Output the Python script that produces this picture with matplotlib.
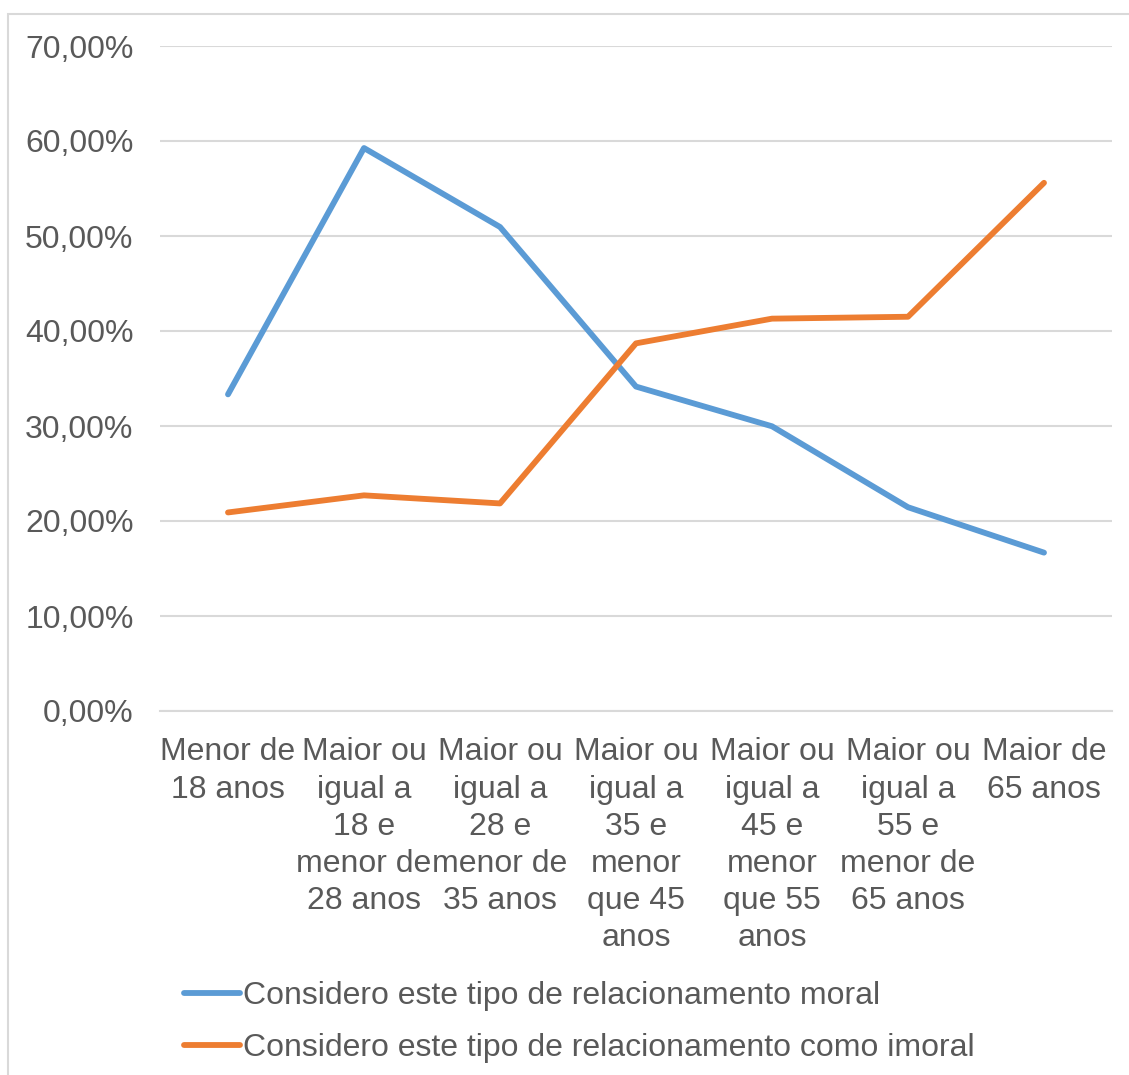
import matplotlib
matplotlib.use("Agg")
import matplotlib.pyplot as plt
from matplotlib.patches import Rectangle
from matplotlib.ticker import FuncFormatter

plt.rcParams['font.family'] = ['Liberation Sans', 'DejaVu Sans']

# Age groups (x categories)
categories = [
    "Menor de\n18 anos",
    "Maior ou\nigual a\n18 e\nmenor de\n28 anos",
    "Maior ou\nigual a\n28 e\nmenor de\n35 anos",
    "Maior ou\nigual a\n35 e\nmenor\nque 45\nanos",
    "Maior ou\nigual a\n45 e\nmenor\nque 55\nanos",
    "Maior ou\nigual a\n55 e\nmenor de\n65 anos",
    "Maior de\n65 anos",
]

# Share of respondents (%)
moral = [33.33, 59.26, 50.95, 34.15, 29.97, 21.45, 16.67]
imoral = [20.90, 22.70, 21.85, 38.70, 41.30, 41.50, 55.60]

series_labels = [
    "Considero este tipo de relacionamento moral",
    "Considero este tipo de relacionamento como imoral",
]
y_ticks = [0, 10, 20, 30, 40, 50, 60, 70]

W, H = 1129, 1075
FS = 23
fig = plt.figure(figsize=(W / 100, H / 100), dpi=100)
fig.patch.set_facecolor("white")

# Chart-area border
fig.add_artist(Rectangle((8 / W, -0.05), 1.2, 1 - 14 / H + 0.05,
                         transform=fig.transFigure, fill=False,
                         edgecolor="#D9D9D9", linewidth=1.5))

ax = fig.add_axes([160 / W, 1 - 711 / H, (1112 - 160) / W, (711 - 46) / H])

text_color = "#595959"
x = list(range(len(categories)))
ax.plot(x, moral, color="#5B9BD5", linewidth=4.2, solid_capstyle="round",
        solid_joinstyle="round", label=series_labels[0], zorder=3)
ax.plot(x, imoral, color="#ED7D31", linewidth=4.2, solid_capstyle="round",
        solid_joinstyle="round", label=series_labels[1], zorder=3)

ax.set_xlim(-0.5, len(categories) - 0.5)
ax.set_ylim(0, 70)
ax.set_yticks(y_ticks)
ax.yaxis.set_major_formatter(FuncFormatter(lambda v, p: f"{v:.2f}%".replace(".", ",")))
ax.set_xticks(x)
ax.set_xticklabels(categories, linespacing=1.31)

ax.grid(axis="y", color="#D9D9D9", linewidth=1.5)
ax.set_axisbelow(True)
for s in ["top", "right", "left"]:
    ax.spines[s].set_visible(False)
ax.spines["bottom"].set_color("#D9D9D9")
ax.spines["bottom"].set_linewidth(1.5)

ax.tick_params(axis="both", length=0, labelsize=FS, labelcolor=text_color)
ax.tick_params(axis="y", pad=19)
ax.tick_params(axis="x", pad=19)

leg = ax.legend(loc="upper left", bbox_to_anchor=(184 / W, 1 - 981 / H),
                bbox_transform=fig.transFigure, frameon=False, fontsize=FS,
                handlelength=1.75, handletextpad=0.1, labelspacing=0.7,
                borderpad=0, borderaxespad=0)
for t in leg.get_texts():
    t.set_color(text_color)

fig.savefig("out.png", dpi=100, facecolor="white")
